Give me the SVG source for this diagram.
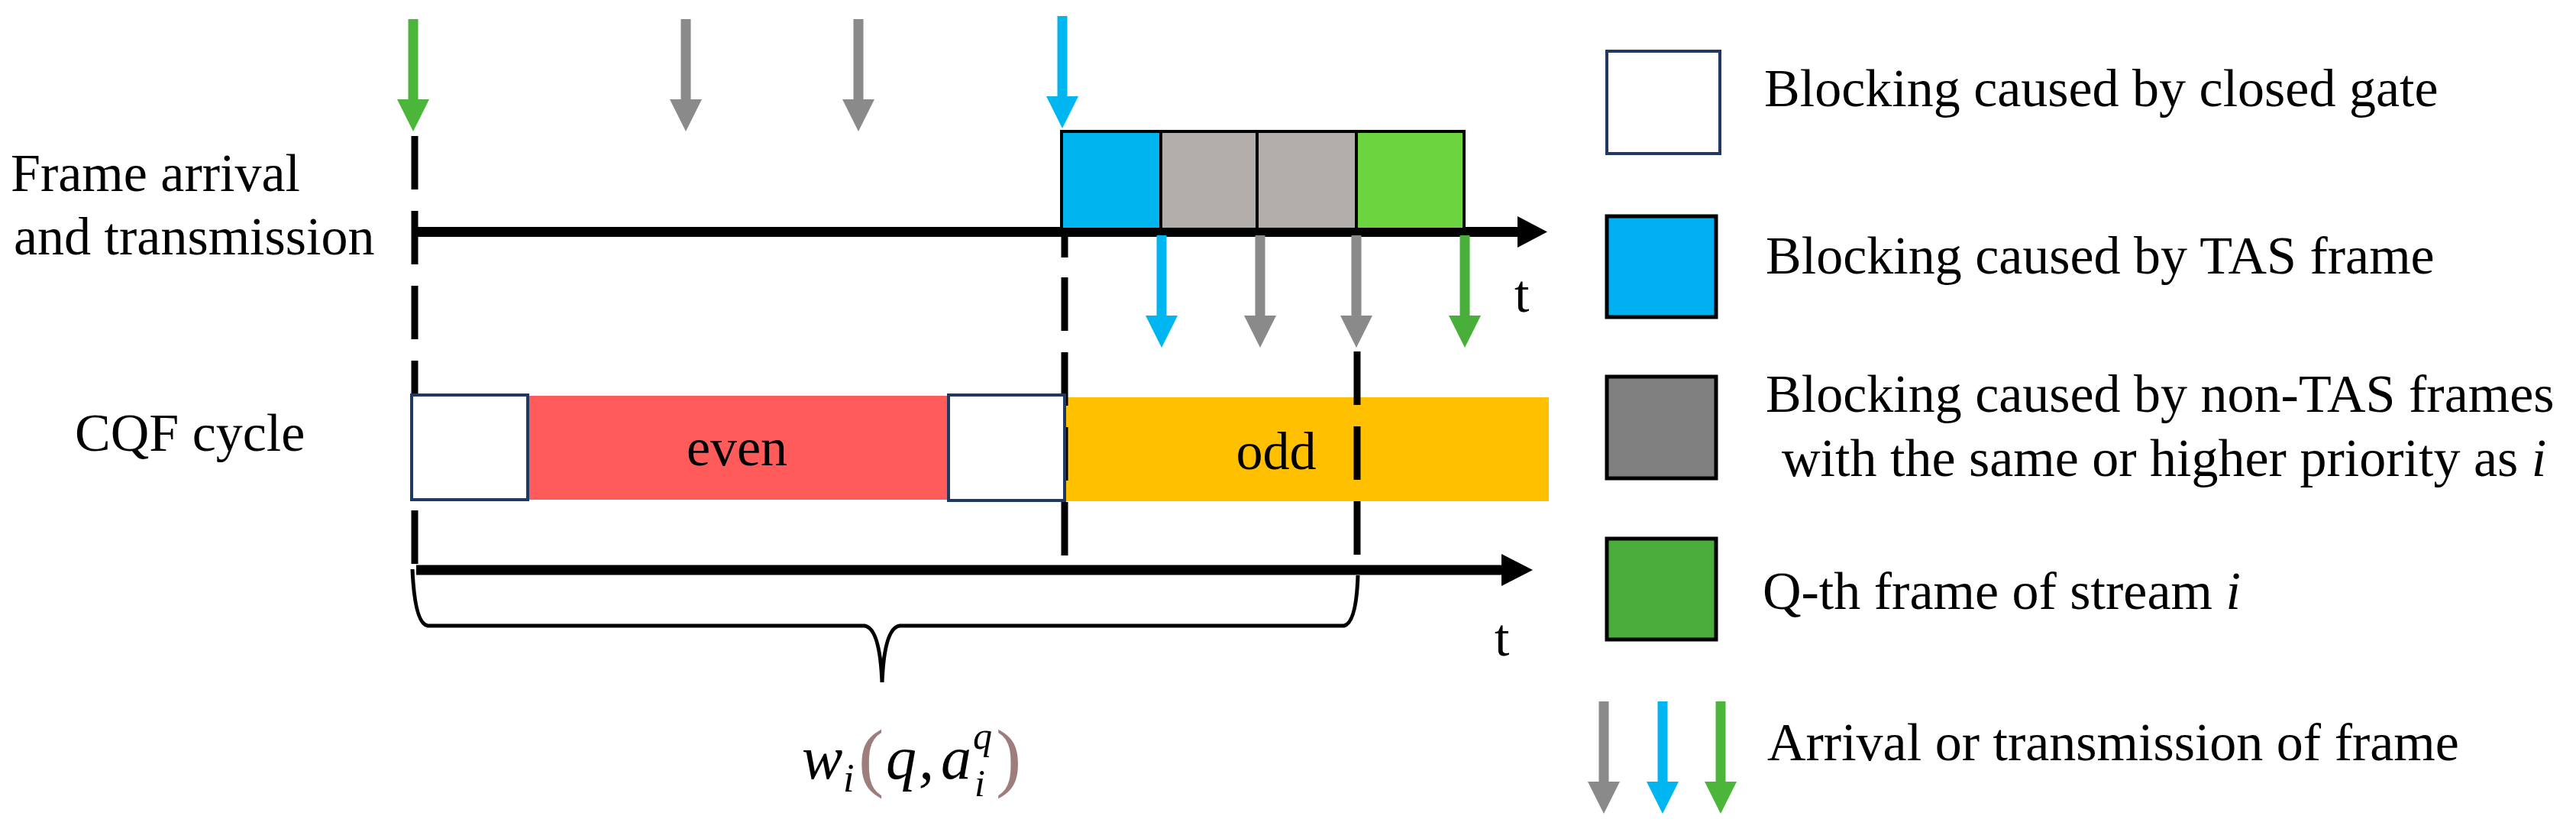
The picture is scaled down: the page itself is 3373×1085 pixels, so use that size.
<svg xmlns="http://www.w3.org/2000/svg" xmlns:xlink="http://www.w3.org/1999/xlink" width="3373" height="1085" viewBox="0 0 3373 1085">
<style>
  text { font-family: "Liberation Serif", "Times New Roman", serif; font-size: 70px; fill: #000; }
  .mid { text-anchor: middle; }
  .it { font-style: italic; }
  .math { font-family: "Liberation Serif", "DejaVu Serif", serif; font-style: italic; }
  .paren { font-style: normal; fill: #9E7E7B; }
  .dash { stroke: #000; stroke-width: 9; stroke-dasharray: 70 28; fill: none; }
  .axis { stroke: #000; stroke-width: 13; fill: none; }
  .gate { fill: #fff; stroke: #1F3864; stroke-width: 4; }
  .frame { stroke: #000; stroke-width: 4; }
  .lg { stroke: #000; stroke-width: 5; }
  .green { fill: #4CB63B; }
  .gray { fill: #8A8A8A; }
  .blue { fill: #00B6F0; }
</style>
<defs>
  <path id="arr" d="M -6.5 0 H 6.5 V 105 H 21 L 0 147 L -21 105 H -6.5 Z"/>
</defs>

<g id="labels">
  <text x="14" y="250">Frame arrival</text>
  <text x="18" y="333">and transmission</text>
  <text x="98" y="590">CQF cycle</text>
  <text x="1983" y="408">t</text>
  <text x="1957" y="858">t</text>
</g>

<g id="cqf-phases">
  <rect id="even" x="692" y="518" width="549" height="136" fill="#FF5B5B"/>
  <rect id="odd" x="1394" y="520" width="634" height="136" fill="#FFC000"/>
  <text class="mid" x="965" y="609">even</text>
  <text class="mid" x="1671" y="614">odd</text>
</g>

<g id="connectors">
  <line class="dash" x1="543" y1="178" x2="543" y2="740"/>
  <line x1="1394" y1="310" x2="1394" y2="337" stroke="#000" stroke-width="9"/>
  <line class="dash" x1="1394" y1="363" x2="1394" y2="728"/>
  <line class="dash" x1="1777" y1="460" x2="1777" y2="728"/>
  <line class="axis" x1="547" y1="303.5" x2="1990" y2="303.5"/>
  <polygon points="1987,283 2026,303.5 1987,324"/>
  <line class="axis" x1="545" y1="746" x2="1970" y2="746"/>
  <polygon points="1966,725 2007,746 1966,767"/>
  <path d="M 540 745 Q 543 816 560 819 L 1132 819 Q 1152 822 1155 893 Q 1158 822 1178 819 L 1760 819 Q 1776 815 1778 753" fill="none" stroke="#000" stroke-width="5"/>
  <use href="#arr" xlink:href="#arr" class="green" x="541" y="25"/>
  <use href="#arr" xlink:href="#arr" class="gray" x="898" y="25"/>
  <use href="#arr" xlink:href="#arr" class="gray" x="1124" y="25"/>
  <use href="#arr" xlink:href="#arr" class="blue" x="1391" y="21"/>
  <use href="#arr" xlink:href="#arr" class="blue" x="1521" y="308"/>
  <use href="#arr" xlink:href="#arr" class="gray" x="1650" y="308"/>
  <use href="#arr" xlink:href="#arr" class="gray" x="1776" y="308"/>
  <use href="#arr" xlink:href="#arr" fill="#48B03A" x="1918" y="308"/>
</g>

<g id="cqf-gates">
  <rect id="gate1" class="gate" x="539" y="517" width="152" height="137"/>
  <rect id="gate2" class="gate" x="1242" y="517" width="152" height="138"/>
</g>

<g id="frames">
  <rect id="f-tas" class="frame" x="1390" y="172" width="130" height="128" fill="#00B4F0"/>
  <rect id="f-g1" class="frame" x="1520" y="172" width="126" height="128" fill="#B3AEAA"/>
  <rect id="f-g2" class="frame" x="1646" y="172" width="130" height="128" fill="#B3AEAA"/>
  <rect id="f-q" class="frame" x="1776" y="172" width="141" height="128" fill="#6CD43F"/>
</g>

<g id="formula">
  <text class="math" style="font-size:80px"><tspan x="1050" y="1019">w</tspan><tspan x="1104" y="1036" style="font-size:52px">i</tspan><tspan class="paren" x="1124" y="1024" style="font-size:100px">(</tspan><tspan x="1160" y="1019">q</tspan><tspan x="1203" y="1019">,</tspan><tspan x="1232" y="1019">a</tspan><tspan x="1274" y="980" style="font-size:50px">q</tspan><tspan x="1276" y="1042" style="font-size:50px">i</tspan><tspan class="paren" x="1304" y="1024" style="font-size:100px">)</tspan></text>
</g>

<g id="legend">
  <g id="lg-gate">
    <rect class="gate" x="2104" y="67" width="148" height="134"/>
    <text x="2310" y="139">Blocking caused by closed gate</text>
  </g>
  <g id="lg-tas">
    <rect class="lg" x="2104" y="283" width="143" height="132" fill="#00B0F0"/>
    <text x="2312" y="358">Blocking caused by TAS frame</text>
  </g>
  <g id="lg-nontas">
    <rect class="lg" x="2104" y="493" width="143" height="133" fill="#808080"/>
    <text x="2312" y="539">Blocking caused by non-TAS frames</text>
    <text x="2333" y="623">with the same or higher priority as <tspan class="it">i</tspan></text>
  </g>
  <g id="lg-q">
    <rect class="lg" x="2104" y="705" width="143" height="132" fill="#4BAE3C"/>
    <text x="2308" y="797">Q-th frame of stream <tspan class="it">i</tspan></text>
  </g>
  <g id="lg-arrows">
    <use href="#arr" xlink:href="#arr" class="gray" x="2100" y="918"/>
    <use href="#arr" xlink:href="#arr" class="blue" x="2177" y="918"/>
    <use href="#arr" xlink:href="#arr" class="green" x="2253" y="918"/>
    <text x="2314" y="995">Arrival or transmission of frame</text>
  </g>
</g>
</svg>
